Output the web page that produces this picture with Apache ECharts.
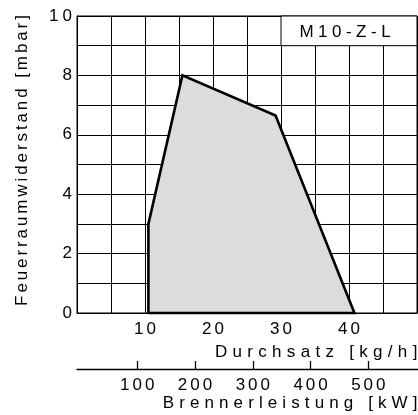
<!DOCTYPE html>
<html>
<head>
<meta charset="utf-8">
<title>M10-Z-L Arbeitsfeld</title>
<script src="https://cdn.jsdelivr.net/npm/echarts@6/dist/echarts.min.js"></script>
<style>
  html, body { margin: 0; padding: 0; background: #fff; }
  #chart { width: 418px; height: 415px; }
</style>
</head>
<body>
<div id="chart"></div>
<script>
// Arbeitsfeld: Durchsatz [kg/h] gegen Feuerraumwiderstand [mbar]
var durchsatz  = [10.5, 10.5, 15.5, 29.2, 40.8, 10.5];
var widerstand = [0, 3, 8, 6.65, 0, 0];
var kgLabels   = [10, 20, 30, 40];
var mbarLabels = [0, 2, 4, 6, 8, 10];
var kwLabels   = [100, 200, 300, 400, 500];
var modell     = 'M10-Z-L';

var FONT = '"Liberation Sans", Arial, Helvetica, sans-serif';

// gesperrte Schrift: jedes Zeichen ein eigenes rich-Token mit Polsterung
function sperren(str, key) {
  return String(str).split('').map(function (c) {
    return '{' + key + '|' + c + '}';
  }).join('');
}
function stil(size, gap) {
  return { fontFamily: FONT, fontSize: size, color: '#000', fill: '#000', padding: [0, gap / 2] };
}

var punkte = [];
for (var i = 0; i < durchsatz.length; i++) {
  punkte.push([durchsatz[i], widerstand[i]]);
}

var myChart = echarts.init(document.getElementById('chart'));

var option = {
  animation: false,
  grid: [
    { left: 77, top: 16, width: 340, height: 297, show: true, borderColor: '#000', borderWidth: 1, outerBoundsMode: 'none' },
    { left: 77, top: 368, width: 341, height: 1, outerBoundsMode: 'none' }
  ],
  xAxis: [
    {
      type: 'value', gridIndex: 0, min: 0, max: 50, interval: 5,
      axisLine: { show: true, lineStyle: { color: '#000', width: 1 } },
      axisTick: { show: false },
      splitLine: { show: true, lineStyle: { color: '#000', width: 1 } },
      axisLabel: {
        margin: 8,
        formatter: function (v) { return kgLabels.indexOf(v) >= 0 ? sperren(v, 't') : ''; },
        rich: { t: stil(17, 3) }
      }
    },
    {
      type: 'value', gridIndex: 1, position: 'bottom', min: -4.4, max: 586,
      axisLine: { show: true, lineStyle: { color: '#000', width: 1.3 } },
      axisTick: { show: true, inside: true, length: 8, customValues: kwLabels, lineStyle: { color: '#000', width: 1.3 } },
      splitLine: { show: false },
      axisLabel: {
        margin: 8,
        customValues: kwLabels,
        formatter: function (v) { return sperren(v, 't'); },
        rich: { t: stil(17, 3) }
      }
    }
  ],
  yAxis: [
    {
      type: 'value', gridIndex: 0, min: 0, max: 10, interval: 1,
      axisLine: { show: true, lineStyle: { color: '#000', width: 1 } },
      axisTick: { show: false },
      splitLine: { show: true, lineStyle: { color: '#000', width: 1 } },
      axisLabel: {
        margin: 3,
        formatter: function (v) { return mbarLabels.indexOf(v) >= 0 ? sperren(v, 't') : ''; },
        rich: { t: stil(17, 4) }
      },
      name: sperren('Feuerraumwiderstand [mbar]', 'n'),
      nameLocation: 'middle',
      nameRotate: 90,
      nameGap: 46,
      nameTextStyle: { padding: [0, 0, 0, 8], rich: { n: stil(17, 2.9) } }
    },
    { type: 'value', gridIndex: 1, show: false }
  ],
  series: [
    {
      type: 'line',
      xAxisIndex: 0, yAxisIndex: 0,
      data: punkte,
      symbol: 'none',
      clip: false,
      silent: true,
      lineStyle: { color: '#000', width: 2.6, join: 'miter' },
      areaStyle: { color: '#dcdcdc', opacity: 1 },
      markArea: {
        silent: true,
        itemStyle: { color: '#fff', borderColor: '#000', borderWidth: 1 },
        label: {
          show: true, position: 'inside', offset: [-4, 1],
          formatter: sperren(modell, 'm'),
          rich: { m: stil(17, 4.5) }
        },
        data: [[{ coord: [30, 9] }, { coord: [50, 10] }]]
      }
    }
  ],
  graphic: [
    {
      type: 'text', x: 420, y: 352.5, silent: true,
      style: { text: sperren('Durchsatz [kg/h]', 'n'), rich: { n: stil(17, 5.3) }, align: 'right', verticalAlign: 'middle' }
    },
    {
      type: 'text', x: 420, y: 403, silent: true,
      style: { text: sperren('Brennerleistung [kW]', 'n'), rich: { n: stil(17, 5.1) }, align: 'right', verticalAlign: 'middle' }
    }
  ]
};
myChart.setOption(option);
</script>
</body>
</html>
